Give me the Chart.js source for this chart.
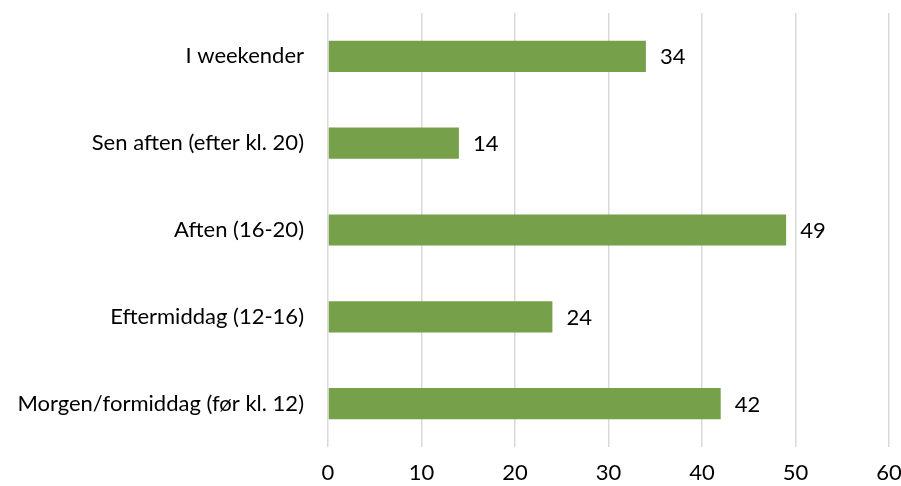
<!DOCTYPE html>
<html>
<head>
<meta charset="utf-8">
<script src="https://cdn.jsdelivr.net/npm/chart.js@4"></script>
<style>
  html, body { margin: 0; padding: 0; background: #fff; }
  #wrap { width: 901px; height: 486px; }
</style>
</head>
<body>
<div id="wrap"><canvas id="chart"></canvas></div>
<script>
var categories = ['I weekender', 'Sen aften (efter kl. 20)', 'Aften (16-20)', 'Eftermiddag (12-16)', 'Morgen/formiddag (før kl. 12)'];
var values = [34, 14, 49, 24, 42];
var xTicks = [0, 10, 20, 30, 40, 50, 60];

var fontFamily = 'Lato, "Open Sans", sans-serif';

function noPadding(scale) {
  scale.paddingTop = 0;
  scale.paddingBottom = 0;
  scale.paddingLeft = 0;
  scale.paddingRight = 0;
}

// value labels to the right of each bar
var barLabels = {
  id: 'barLabels',
  afterDatasetsDraw: function (chart) {
    var ctx = chart.ctx;
    var meta = chart.getDatasetMeta(0);
    ctx.save();
    ctx.font = '22px ' + fontFamily;
    ctx.fillStyle = '#000';
    ctx.textAlign = 'left';
    ctx.textBaseline = 'middle';
    meta.data.forEach(function (bar, i) {
      ctx.fillText(String(values[i]), bar.x + 14, bar.y + 1);
    });
    ctx.restore();
  }
};

var context = document.getElementById('chart').getContext('2d');
var chart = new Chart(context, {
  type: 'bar',
  data: {
    labels: categories,
    datasets: [
      {
        data: values,
        backgroundColor: '#77A04B',
        barPercentage: 0.72,
        categoryPercentage: 0.5,
      }
    ],
  },
  plugins: [barLabels],
  options: {
    indexAxis: 'y',
    responsive: true,
    maintainAspectRatio: false,
    animation: false,
    layout: {
      autoPadding: false,
      padding: { top: 13, right: 12, left: 0, bottom: 0 }
    },
    plugins: {
      legend: { display: false },
      tooltip: { enabled: false },
    },
    scales: {
      x: {
        min: 0,
        max: 60,
        afterBuildTicks: function (scale) {
          scale.ticks = xTicks.map(function (v) { return { value: v }; });
        },
        afterFit: function (scale) { scale.height = 39; noPadding(scale); },
        border: { display: false },
        grid: { color: '#d9d9d9', lineWidth: 1.5, drawTicks: false },
        ticks: {
          padding: 13,
          color: '#000',
          font: { family: fontFamily, size: 22 },
        }
      },
      y: {
        afterFit: function (scale) { scale.width = 328; noPadding(scale); },
        border: { display: false },
        grid: { display: false, drawTicks: false },
        ticks: {
          padding: 24,
          color: '#000',
          font: { family: fontFamily, size: 22 },
        }
      }
    },
  }
});
</script>
</body>
</html>
